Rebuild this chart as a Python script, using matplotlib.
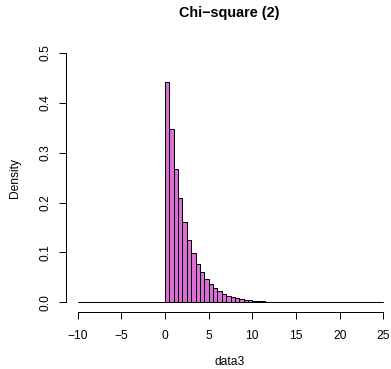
import matplotlib
matplotlib.use("Agg")
import matplotlib.pyplot as plt
import numpy as np

plt.rcParams['font.family'] = ['Liberation Sans', 'DejaVu Sans']
plt.rcParams['axes.unicode_minus'] = True

# histogram bins: breaks from -10 to 25 by 0.5
bin_width = 0.5
break_start = -10.0
break_end = 25.0
# densities for bins starting at 0; bins below 0 are empty
positive_density = [0.441, 0.347, 0.268, 0.210, 0.162, 0.125, 0.099, 0.077,
                    0.060, 0.046, 0.036, 0.028, 0.022, 0.017, 0.013, 0.010,
                    0.0078, 0.0060, 0.0047, 0.0037, 0.0029, 0.0022, 0.0017,
                    0.0013, 0.0010, 0.0008, 0.0006, 0.0005, 0.0004, 0.0003,
                    0.00023, 0.00018, 0.00014, 0.0001, 0.00008, 0.00006,
                    0.00005, 0.00004, 0.00003, 0.00002, 0.00002, 0.00001,
                    0.00001, 0.0, 0.0, 0.0, 0.0, 0.0, 0.0, 0.0]
x_ticks = [-10, -5, 0, 5, 10, 15, 20, 25]
y_ticks = [0.0, 0.1, 0.2, 0.3, 0.4, 0.5]
title = "Chi\u2212square (2)"
xlabel = "data3"
ylabel = "Density"

W, H = 391, 369
fig = plt.figure(figsize=(W / 72, H / 72), dpi=72)
# axes in pixel coords: x 65.5..395.5, y 43..312
left, right, top, bottom = 65.5, 395.5, 43.0, 312.3
ax = fig.add_axes([left / W, (H - bottom) / H, (right - left) / W, (bottom - top) / H])

n_neg = int(round((0 - break_start) / bin_width))
densities = [0.0] * n_neg + positive_density
edges = break_start + bin_width * np.arange(len(densities))
ax.bar(edges, densities, width=bin_width, align='edge', color='orchid',
       edgecolor='black', linewidth=1.0)
# zero-height bars appear as a line in the reference
ax.hlines(0, break_start, break_end, color='black', linewidth=1.0)

ax.set_xlim(-11.4, 26.4)
ax.set_ylim(-0.02, 0.52)
for s in ['top', 'right']:
    ax.spines[s].set_visible(False)
ax.spines['left'].set_bounds(0, 0.5)
ax.spines['bottom'].set_bounds(-10, 25)
ax.spines['left'].set_linewidth(1.0)
ax.spines['bottom'].set_linewidth(1.0)
ax.set_xticks(x_ticks)
ax.set_xticklabels([str(t).replace('-', '\u2212') for t in x_ticks])
ax.set_yticks(y_ticks)
ax.set_yticklabels([f"{t:.1f}" for t in y_ticks], rotation=90, va='center')
ax.tick_params(axis='both', length=7, width=1.0, labelsize=12, direction='out')
ax.tick_params(axis='x', pad=11)
ax.tick_params(axis='y', pad=7)

fig.text(229.5 / W, 1 - 13 / H, title, ha='center', va='center',
         fontsize=14.4, fontweight='bold')
fig.text(230 / W, 1 - 362 / H, xlabel, ha='center', va='center', fontsize=12)
fig.text(15 / W, 1 - 178 / H, ylabel, ha='center', va='center', fontsize=12,
         rotation=90)

fig.savefig("out.png", dpi=72)
